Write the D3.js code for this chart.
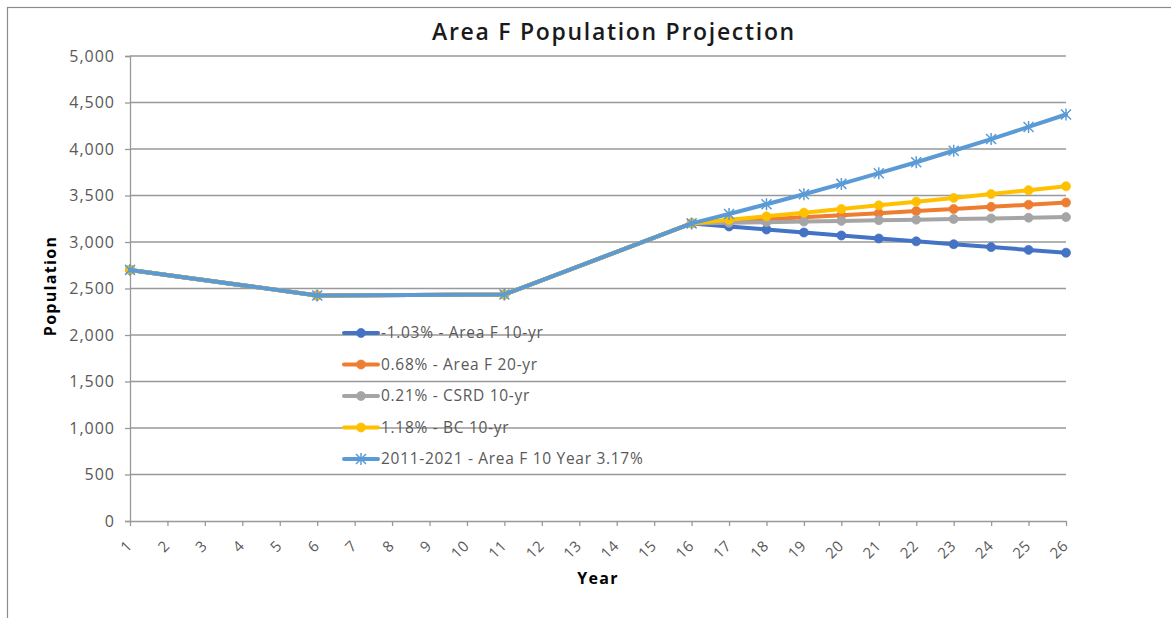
<!DOCTYPE html>
<html>
<head>
<meta charset="utf-8">
<script src="https://cdn.jsdelivr.net/npm/d3@7"></script>
<style>
  html, body { margin: 0; padding: 0; background: #fff; }
  svg { display: block; }
  text { font-family: "Open Sans", "DejaVu Sans", sans-serif; }
</style>
</head>
<body>
<svg id="chart" width="1171" height="618"></svg>
<script>
// Years on the category axis
const years = d3.range(1, 27).map(String);

// Population by year (null = no value for that year; the line bridges the gap)
const areaF10yr   = [2700,null,null,null,null,2425,null,null,null,null,2435,null,null,null,null,3200,3167,3134,3102,3070,3038,3007,2976,2945,2915,2885];
const areaF20yr   = [2700,null,null,null,null,2425,null,null,null,null,2435,null,null,null,null,3200,3222,3244,3266,3288,3310,3333,3355,3378,3401,3424];
const csrd10yr    = [2700,null,null,null,null,2425,null,null,null,null,2435,null,null,null,null,3200,3207,3213,3220,3227,3234,3240,3247,3254,3261,3268];
const bc10yr      = [2700,null,null,null,null,2425,null,null,null,null,2435,null,null,null,null,3200,3238,3276,3315,3354,3394,3434,3474,3515,3557,3599];
const areaF2011   = [2700,null,null,null,null,2425,null,null,null,null,2435,null,null,null,null,3200,3301,3406,3514,3625,3740,3858,3981,4107,4237,4371];

const seriesNames = [
  "-1.03% - Area F 10-yr",
  "0.68% - Area F 20-yr",
  "0.21% - CSRD 10-yr",
  "1.18% - BC 10-yr",
  "2011-2021 - Area F 10 Year 3.17%"
];
const seriesValues = [areaF10yr, areaF20yr, csrd10yr, bc10yr, areaF2011];
const seriesColors = ["#4472C4", "#ED7D31", "#A5A5A5", "#FFC000", "#5B9BD5"];
const seriesMarkers = ["circle", "circle", "circle", "circle", "star"];

const yTicks = d3.range(0, 5001, 500);

const svg = d3.select("#chart");
const gridColor = "#999999";
const labelColor = "#595959";

// Outer chart frame
svg.append("rect")
  .attr("x", 7.5).attr("y", 7.5)
  .attr("width", 1300).attr("height", 800)
  .attr("fill", "none").attr("stroke", "#8c8c8c").attr("stroke-width", 1.2);

const plot = { left: 130, right: 1066, top: 56, bottom: 521 };

const x = d3.scalePoint().domain(years).range([plot.left, plot.right]);
const y = d3.scaleLinear().domain([0, 5000]).range([plot.bottom, plot.top]);

// Title
svg.append("text")
  .attr("x", 614).attr("y", 40)
  .attr("text-anchor", "middle")
  .attr("font-size", 23).attr("font-weight", 600)
  .attr("letter-spacing", 1.7)
  .attr("fill", "#1a1a1a")
  .text("Area F Population Projection");

// Horizontal gridlines
svg.append("g").selectAll("line")
  .data(yTicks.filter(d => d > 0))
  .join("line")
  .attr("x1", plot.left).attr("x2", plot.right)
  .attr("y1", d => y(d)).attr("y2", d => y(d))
  .attr("stroke", gridColor).attr("stroke-width", 1.3);

// Y axis
const yAxis = svg.append("g")
  .attr("transform", `translate(${plot.left},0)`)
  .call(d3.axisLeft(y).tickValues(yTicks).tickFormat(d3.format(",")).tickSize(5).tickPadding(10));
yAxis.select(".domain").attr("stroke", gridColor).attr("stroke-width", 1.3);
yAxis.selectAll(".tick line").attr("stroke", gridColor).attr("stroke-width", 1.3);
yAxis.selectAll(".tick text")
  .attr("font-family", "\"Open Sans\", sans-serif")
  .attr("font-size", 16).attr("letter-spacing", 1).attr("fill", labelColor);

// X axis
const xAxis = svg.append("g")
  .attr("transform", `translate(0,${plot.bottom})`)
  .call(d3.axisBottom(x).tickSize(5).tickSizeOuter(0));
xAxis.select(".domain").attr("stroke", gridColor).attr("stroke-width", 1.3);
xAxis.selectAll(".tick line").attr("stroke", gridColor).attr("stroke-width", 1.3);
xAxis.selectAll(".tick text")
  .attr("font-family", "\"Open Sans\", sans-serif")
  .attr("font-size", 15).attr("letter-spacing", 0.5).attr("fill", labelColor)
  .attr("text-anchor", "end")
  .attr("x", 0).attr("y", 0).attr("dy", "0.35em")
  .attr("transform", "translate(-1,22) rotate(-45)");

// Axis titles
svg.append("text")
  .attr("transform", "translate(56,286) rotate(-90)")
  .attr("text-anchor", "middle")
  .attr("font-size", 16).attr("font-weight", 700).attr("letter-spacing", 1.3).attr("fill", "#000")
  .text("Population");

svg.append("text")
  .attr("x", 598).attr("y", 584)
  .attr("text-anchor", "middle")
  .attr("font-size", 16).attr("font-weight", 700).attr("letter-spacing", 1.3).attr("fill", "#000")
  .text("Year");

// Marker shapes
const starPath = "M-5,-5L5,5M-5,5L5,-5M0,-6L0,6";
function drawMarker(g, kind, color) {
  if (kind === "star") {
    g.append("path").attr("d", starPath)
      .attr("fill", "none").attr("stroke", color).attr("stroke-width", 1.5);
  } else {
    g.append("circle").attr("r", 4.5).attr("fill", color).attr("stroke", color).attr("stroke-width", 0.75);
  }
}

// Series lines and markers
const line = d3.line().x(d => x(d.year)).y(d => y(d.value));
seriesValues.forEach((vals, i) => {
  const pts = vals.map((v, j) => ({ year: years[j], value: v })).filter(d => d.value !== null);
  const g = svg.append("g");
  g.append("path")
    .datum(pts)
    .attr("d", line)
    .attr("fill", "none")
    .attr("stroke", seriesColors[i])
    .attr("stroke-width", 4)
    .attr("stroke-linejoin", "round")
    .attr("stroke-linecap", "round");
  pts.forEach(p => {
    const m = g.append("g").attr("transform", `translate(${x(p.year)},${y(p.value)})`);
    drawMarker(m, seriesMarkers[i], seriesColors[i]);
  });
});

// Legend
const legend = svg.append("g").attr("transform", "translate(344,333)");
seriesNames.forEach((name, i) => {
  const row = legend.append("g").attr("transform", `translate(0,${i * 31.5})`);
  row.append("line")
    .attr("x1", 0).attr("x2", 34).attr("y1", 0).attr("y2", 0)
    .attr("stroke", seriesColors[i]).attr("stroke-width", 4).attr("stroke-linecap", "round");
  const m = row.append("g").attr("transform", "translate(17,0)");
  drawMarker(m, seriesMarkers[i], seriesColors[i]);
  row.append("text")
    .attr("x", 37).attr("y", 0).attr("dy", "0.35em")
    .attr("font-size", 15.5).attr("letter-spacing", 0.7).attr("fill", labelColor)
    .text(name);
});
</script>
</body>
</html>
